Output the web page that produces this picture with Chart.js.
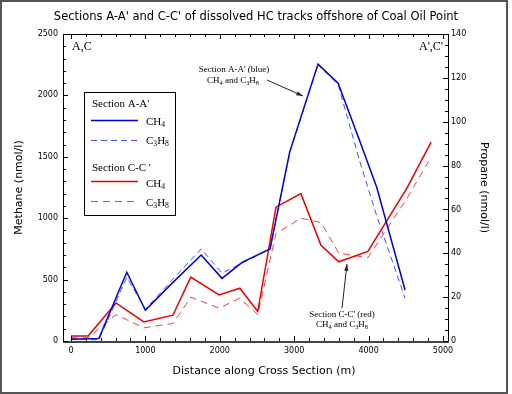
<!DOCTYPE html>
<html>
<head>
<meta charset="utf-8">
<script src="https://cdn.jsdelivr.net/npm/chart.js@4"></script>
<style>
  html, body { margin: 0; padding: 0; background: #fff; }
  #wrap { width: 512px; height: 394px; }
</style>
</head>
<body>
<div id="wrap"><canvas id="chart" width="512" height="394"></canvas></div>
<script>
// distances along the section (m)
const distA = [0, 375, 750, 1000, 1350, 1750, 2030, 2300, 2675, 2940, 3320, 3590, 3880, 4110, 4490];
const distC = [0, 230, 605, 980, 1370, 1610, 1990, 2270, 2510, 2755, 3090, 3360, 3600, 3990, 4515, 4840];

// methane (nmol/l), left axis
const methaneA = [15, 20, 560, 250, 465, 700, 510, 640, 750, 1540, 2255, 2100, 1630, 1250, 415];
const methaneC = [40, 40, 310, 155, 210, 520, 375, 430, 240, 1090, 1200, 780, 645, 730, 1245, 1620];

// propane (nmol/l), right axis
const propaneA = [1, 0.5, 29, 14.5, 27.5, 42, 31, 35.5, 42, 86, 126, 117, 82, 57, 19.5];
const propaneC = [1.5, 1.5, 12, 6, 8, 20, 15, 19.5, 12, 49, 56, 54, 40, 38, 65, 84];

const xTicks = [0, 1000, 2000, 3000, 4000, 5000];

const pts = (xs, ys) => xs.map((d, i) => ({ x: d, y: ys[i] }));

const tickFont = { family: "DejaVu Sans", size: 8 };
const titleFont = { family: "DejaVu Sans", size: 11 };

// box, inward ticks, labels, legend and notes
const decor = {
  id: 'decor',
  beforeDraw(chart) {
    const { ctx, width, height } = chart;
    ctx.save();
    ctx.fillStyle = '#fff';
    ctx.fillRect(0, 0, width, height);
    ctx.restore();
  },
  afterDraw(chart) {
    const { ctx, chartArea: { left, right, top, bottom }, scales: { x, y, y2 } } = chart;
    ctx.save();
    ctx.strokeStyle = '#000';
    ctx.lineWidth = 1;
    const line = (x1, y1, x2, y2_) => {
      ctx.beginPath(); ctx.moveTo(x1, y1); ctx.lineTo(x2, y2_); ctx.stroke();
    };
    // plot box
    ctx.strokeRect(Math.round(left) + 0.5, Math.round(top) + 0.5, Math.round(right - left), Math.round(bottom - top));
    ctx.strokeStyle = '#444';
    ctx.lineWidth = 2;
    line(left, Math.round(bottom) + 1, right + 1, Math.round(bottom) + 1);
    ctx.strokeStyle = '#000';
    ctx.lineWidth = 1;

    for (let v = 0; v <= 2500; v += 100) {
      const py = Math.round(y.getPixelForValue(v)) + 0.5;
      line(left, py, left + (v % 500 === 0 ? 5 : 3), py);
    }
    for (let v = 0; v <= 140; v += 5) {
      const py = Math.round(y2.getPixelForValue(v)) + 0.5;
      line(right, py, right - (v % 20 === 0 ? 5 : 3), py);
    }
    for (let v = 0; v <= 5000; v += 200) {
      const px = Math.round(x.getPixelForValue(v)) + 0.5;
      const len = v % 1000 === 0 ? 5 : 3;
      line(px, bottom, px, bottom - len);
      line(px, top, px, top + len);
    }

    // outer frame
    ctx.strokeStyle = '#555';
    ctx.lineWidth = 2;
    ctx.strokeRect(1, 1, 506, 392);

    // x axis title
    ctx.fillStyle = '#000';
    ctx.font = '11px "DejaVu Sans"';
    ctx.textAlign = 'center';
    ctx.textBaseline = 'middle';
    ctx.fillText('Distance along Cross Section (m)', 264, 371);

    // end labels
    ctx.font = '12px "Liberation Serif"';
    ctx.textBaseline = 'alphabetic';
    ctx.textAlign = 'left';
    ctx.fillText('A,C', 72, 50);
    ctx.textAlign = 'right';
    ctx.fillText("A',C'", 443, 50);

    // text with subscripts
    const sub = (parts, x0, yb, size, align) => {
      let w = 0;
      parts.forEach(p => {
        ctx.font = (p.s ? size * 0.7 : size) + 'px "Liberation Serif"';
        w += ctx.measureText(p.t).width;
      });
      let cx = align === 'center' ? x0 - w / 2 : x0;
      ctx.textAlign = 'left';
      parts.forEach(p => {
        ctx.font = (p.s ? size * 0.7 : size) + 'px "Liberation Serif"';
        ctx.fillText(p.t, cx, yb + (p.s ? size * 0.2 : 0));
        cx += ctx.measureText(p.t).width;
      });
    };
    const ch4 = [{ t: 'CH' }, { t: '4', s: 1 }];
    const c3h8 = [{ t: 'C' }, { t: '3', s: 1 }, { t: 'H' }, { t: '8', s: 1 }];
    const both = [{ t: 'CH' }, { t: '4', s: 1 }, { t: ' and C' }, { t: '3', s: 1 }, { t: 'H' }, { t: '8', s: 1 }];

    // legend box
    ctx.fillStyle = '#fff';
    ctx.fillRect(84, 92, 91, 123);
    ctx.strokeStyle = '#000';
    ctx.lineWidth = 1;
    ctx.strokeRect(84.5, 92.5, 91, 123);
    ctx.fillStyle = '#000';
    sub([{ t: "Section A-A'" }], 92, 107, 11);
    sub(ch4, 146, 125, 11);
    sub(c3h8, 146, 144, 11);
    sub([{ t: "Section C-C '" }], 92, 171, 11);
    sub(ch4, 146, 187, 11);
    sub(c3h8, 146, 206, 11);
    const legLine = (yy, color, dash, w) => {
      ctx.strokeStyle = color; ctx.lineWidth = w; ctx.setLineDash(dash);
      line(91, yy, 138, yy);
      ctx.setLineDash([]);
    };
    legLine(120.5, '#0000dd', [], 1.5);
    legLine(140.5, '#4455f5', [6, 4], 1);
    legLine(181.5, '#ee0000', [], 1.5);
    legLine(201.5, '#f04444', [7, 5], 1);

    // notes with arrows
    ctx.fillStyle = '#000';
    sub([{ t: "Section A-A' (blue)" }], 234, 72, 9, 'center');
    sub(both, 233, 83, 9, 'center');
    sub([{ t: "Section C-C' (red)" }], 342, 317, 9, 'center');
    sub(both, 342, 327, 9, 'center');
    const arrow = (x1, y1, x2, y2_) => {
      ctx.strokeStyle = '#222'; ctx.fillStyle = '#222'; ctx.lineWidth = 1;
      line(x1, y1, x2, y2_);
      const a = Math.atan2(y2_ - y1, x2 - x1);
      ctx.beginPath();
      ctx.moveTo(x2, y2_);
      ctx.lineTo(x2 - 7 * Math.cos(a - 0.3), y2_ - 7 * Math.sin(a - 0.3));
      ctx.lineTo(x2 - 7 * Math.cos(a + 0.3), y2_ - 7 * Math.sin(a + 0.3));
      ctx.closePath();
      ctx.fill();
    };
    arrow(267, 80, 303, 96);
    arrow(342, 308, 347, 264);
    ctx.restore();
  }
};

const ctx = document.getElementById('chart').getContext('2d');
new Chart(ctx, {
  type: 'line',
  data: {
    datasets: [
      { label: 'A CH4', data: pts(distA, methaneA), yAxisID: 'y', borderColor: '#0000dd', borderWidth: 1.5 },
      { label: 'A C3H8', data: pts(distA, propaneA), yAxisID: 'y2', borderColor: '#4455f5', borderWidth: 1, borderDash: [6, 4] },
      { label: 'C CH4', data: pts(distC, methaneC), yAxisID: 'y', borderColor: '#ee0000', borderWidth: 1.5 },
      { label: 'C C3H8', data: pts(distC, propaneC), yAxisID: 'y2', borderColor: '#f04444', borderWidth: 1, borderDash: [7, 5] },
    ],
  },
  options: {
    responsive: false,
    animation: false,
    elements: { point: { radius: 0 }, line: { tension: 0, fill: false } },
    layout: { padding: 0 },
    plugins: {
      legend: { display: false },
      tooltip: { enabled: false },
      title: {
        display: true,
        text: "Sections A-A' and C-C' of dissolved HC tracks offshore of Coal Oil Point",
        color: '#000',
        font: { family: "DejaVu Sans", size: 11.5, weight: 'normal' },
        padding: { top: 10, bottom: 10.2 },
      },
    },
    scales: {
      x: {
        type: 'linear',
        min: -107,
        max: 5067,
        grid: { display: false, drawTicks: false },
        border: { display: false },
        afterBuildTicks: s => { s.ticks = xTicks.map(v => ({ value: v })); },
        afterFit: s => { s.height = 53; },
        ticks: { color: '#000', font: tickFont, padding: 5, maxRotation: 0, callback: v => String(v) },
      },
      y: {
        position: 'left',
        min: 0,
        max: 2500,
        grid: { display: false, drawTicks: false },
        border: { display: false },
        afterFit: s => { s.width = 63; },
        ticks: { color: '#000', font: tickFont, stepSize: 500, padding: 5, callback: v => String(v) },
        title: { display: true, text: 'Methane (nmol/l)', color: '#000', font: titleFont, padding: { top: 13 } },
      },
      y2: {
        position: 'right',
        min: 0,
        max: 140,
        grid: { display: false, drawTicks: false },
        border: { display: false },
        afterFit: s => { s.width = 64; },
        ticks: { color: '#000', font: tickFont, stepSize: 20, padding: 3, callback: v => String(v) },
        title: { display: true, text: 'Propane (nmol/l)', color: '#000', font: titleFont, padding: { top: 22 } },
      },
    },
  },
  plugins: [decor],
});
</script>
</body>
</html>
